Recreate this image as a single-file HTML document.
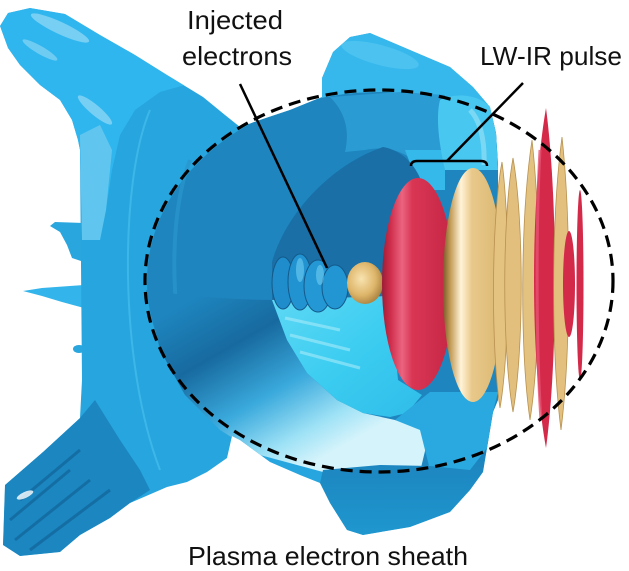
<!DOCTYPE html>
<html>
<head>
<meta charset="utf-8">
<style>
  html, body { margin: 0; padding: 0; background: #ffffff; }
  body { width: 629px; height: 571px; overflow: hidden; }
  svg { display: block; }
  .lbl { font-family: "Liberation Sans", "DejaVu Sans", sans-serif; font-size: 26px; fill: #111; }
</style>
</head>
<body>
<svg width="629" height="571" viewBox="0 0 629 571" xmlns="http://www.w3.org/2000/svg">
  <defs>
    <clipPath id="sil">
      <path d="M0,26 L8,13 L30,8 L65,14 L100,35 L135,55 L167,75 L203,97 L225,115 L240,127 L260,120 L290,110 L322,97 L322,78 L333,52 L350,37 L370,33 L410,50 L450,67 L473,87 L490,107 L496,133 L498,165 L498,400 L493,412 L487,448 L483,472 L470,490 L450,512 L410,527 L363,535 L347,530 L330,503 L320,483 L300,475 L270,462 L240,440 L232,436 L227,458 L207,472 L187,482 L167,487 L130,503 L110,518 L80,535 L60,552 L20,556 L3,545 L5,485 L43,452 L80,418 L82,380 L80,150 L78,140 L72,120 L60,100 L40,85 L20,65 L8,48 Z"/>
    </clipPath>
    <linearGradient id="floor" gradientUnits="userSpaceOnUse" x1="200" y1="295" x2="300" y2="470">
      <stop offset="0" stop-color="#1e85be"/>
      <stop offset="0.3" stop-color="#176a9f"/>
      <stop offset="0.6" stop-color="#3aa9dc"/>
      <stop offset="0.85" stop-color="#9fe2f6"/>
      <stop offset="1" stop-color="#d4f3fb"/>
    </linearGradient>
    <linearGradient id="bright" x1="0" y1="0" x2="1" y2="1">
      <stop offset="0" stop-color="#5fd8f4"/>
      <stop offset="0.5" stop-color="#3ccdf1"/>
      <stop offset="1" stop-color="#2fbde9"/>
    </linearGradient>
    <linearGradient id="redg" x1="0" y1="0" x2="1" y2="0">
      <stop offset="0" stop-color="#9e1c36"/>
      <stop offset="0.12" stop-color="#cf2e4b"/>
      <stop offset="0.28" stop-color="#ea6480"/>
      <stop offset="0.42" stop-color="#d93654"/>
      <stop offset="1" stop-color="#c42644"/>
    </linearGradient>
    <linearGradient id="goldg" x1="0" y1="0" x2="1" y2="0">
      <stop offset="0" stop-color="#7a5a2a"/>
      <stop offset="0.12" stop-color="#c29a55"/>
      <stop offset="0.3" stop-color="#fff3d8"/>
      <stop offset="0.48" stop-color="#e9c98a"/>
      <stop offset="1" stop-color="#d9b670"/>
    </linearGradient>
    <radialGradient id="ball" cx="0.4" cy="0.4" r="0.65">
      <stop offset="0" stop-color="#f8e3b0"/>
      <stop offset="0.6" stop-color="#deb66b"/>
      <stop offset="1" stop-color="#a9803d"/>
    </radialGradient>
    <linearGradient id="bottomp" x1="0" y1="0" x2="0" y2="1">
      <stop offset="0" stop-color="#1c82bc"/>
      <stop offset="1" stop-color="#1f97cf"/>
    </linearGradient>
  </defs>

  <rect x="0" y="0" width="629" height="571" fill="#ffffff"/>

  <!-- left spikes -->
  <path d="M84,223 L55,222 L50,226 L60,232 L67,245 L72,258 L84,262 Z" fill="#2aa6de"/>
  <path d="M84,285 L42,288 L23,291 L42,296 L62,302 L84,308 Z" fill="#33b4ea"/>
  <ellipse cx="79" cy="349" rx="6" ry="4" fill="#2aa6de"/>

  <!-- silhouette base -->
  <rect x="0" y="0" width="629" height="571" fill="#27a5de" clip-path="url(#sil)"/>

  <g clip-path="url(#sil)">
    <!-- upper funnel -->
    <path d="M0,26 L8,13 L30,8 L65,14 L100,35 L135,55 L167,75 L185,85 L160,92 L135,110 L120,135 L112,170 L106,210 L100,240 L82,240 L80,150 L72,120 L60,100 L40,85 L20,65 L8,48 Z" fill="#30b6ee"/>
    <path d="M80,135 L100,125 L112,150 L106,210 L100,240 L82,240 Z" fill="#76cdef" opacity="0.7"/>
    <ellipse cx="60" cy="28" rx="32" ry="6" fill="#ffffff" opacity="0.35" transform="rotate(25 60 28)"/>
    <ellipse cx="95" cy="110" rx="22" ry="5" fill="#ffffff" opacity="0.35" transform="rotate(40 95 110)"/>
    <ellipse cx="40" cy="50" rx="20" ry="4" fill="#ffffff" opacity="0.3" transform="rotate(30 40 50)"/>

    <!-- hood outer (lighter) -->
    <path d="M322,100 L322,78 L333,52 L350,37 L370,33 L410,50 L450,67 L473,87 L490,107 L496,133 L498,170 L440,170 L430,100 Z" fill="#36b8ec"/>
    <ellipse cx="380" cy="55" rx="40" ry="10" fill="#5fcbf3" opacity="0.5" transform="rotate(15 380 55)"/>

    <!-- lower funnel -->
    <path d="M3,545 L5,485 L43,452 L80,418 L95,400 L120,440 L140,470 L150,490 L130,503 L110,518 L80,535 L60,552 L20,556 Z" fill="#1b86c0"/>
    <path d="M10,520 L70,470 M15,540 L90,480 M30,550 L110,490 M20,500 L80,450" stroke="#125f92" stroke-width="3" opacity="0.6"/>
    <ellipse cx="25" cy="495" rx="9" ry="3" fill="#ffffff" opacity="0.8" transform="rotate(-25 25 495)"/>

    <!-- ring lines -->
    <path d="M150,110 C120,180 118,360 160,470" fill="none" stroke="#4dc3f0" stroke-width="2" opacity="0.6"/>

    <!-- cavity -->
    <ellipse cx="379" cy="281" rx="232" ry="189" fill="#1e85be"/>
    <path d="M190,160 C170,210 170,300 185,360" fill="none" stroke="#2a95cc" stroke-width="4" opacity="0.7"/>

    <!-- floor gradient -->
    <path d="M146,290 C200,298 250,300 272,300 L287,340 L307,373 L337,400 L363,413 L395,420 L430,430 L420,472 L323,472 L260,455 L220,430 L185,395 L160,350 Z" fill="url(#floor)"/>

    <!-- hood inner -->
    <path d="M330,97 C345,112 350,130 345,152 L365,150 C385,146 402,150 415,162 L445,165 L445,95 L400,92 Z" fill="#2a9bd3"/>
    <path d="M405,150 L445,150 L445,190 L420,190 Z" fill="#35b8ea"/>
    <!-- pillar -->
    <path d="M440,100 C455,92 480,95 490,107 L496,133 L498,170 L445,170 C438,140 436,115 440,100 Z" fill="#48c7f0"/>
    <path d="M470,110 C480,120 485,140 484,165" fill="none" stroke="#9fe3f9" stroke-width="5" opacity="0.6"/>

    <!-- dark cone -->
    <path d="M272,300 L272,262 C285,215 330,165 383,147 C400,150 413,162 420,178 L425,300 Z" fill="#196fa6"/>

    <!-- bright inner surface -->
    <path d="M272,300 L390,296 L398,380 L422,395 L407,413 L390,417 L363,413 L337,400 L307,373 L287,340 Z" fill="url(#bright)"/>
    <path d="M285,318 L340,330 M290,335 L350,350 M300,352 L360,368" stroke="#a6ebfa" stroke-width="3" opacity="0.6"/>

    <!-- region under pulse -->
    <path d="M395,420 L430,392 L498,392 L493,412 L487,448 L470,470 L430,470 L420,430 Z" fill="#2aa9e0"/>
    <!-- bottom piece -->
    <path d="M320,483 L323,470 L380,465 L430,466 L470,470 L487,448 L483,472 L470,490 L450,512 L410,527 L363,535 L347,530 L330,503 Z" fill="url(#bottomp)"/>
  </g>

  <!-- electron bunch -->
  <g stroke="#14598a" stroke-width="1">
    <ellipse cx="283" cy="283" rx="11" ry="26" fill="#1f8ccb"/>
    <ellipse cx="300" cy="282" rx="12" ry="28" fill="#2293d1"/>
    <ellipse cx="318" cy="286" rx="14" ry="26" fill="#2498d5"/>
    <ellipse cx="335" cy="287" rx="13" ry="22" fill="#2196d3"/>
  </g>
  <ellipse cx="300" cy="270" rx="4" ry="12" fill="#6fcdf2" opacity="0.6"/>
  <ellipse cx="320" cy="275" rx="4" ry="10" fill="#6fcdf2" opacity="0.6"/>

  <!-- gold ball -->
  <ellipse cx="365" cy="283" rx="18" ry="21" fill="url(#ball)"/>

  <!-- red disc -->
  <ellipse cx="418" cy="284" rx="36" ry="106" fill="url(#redg)"/>

  <!-- big gold disc -->
  <ellipse cx="473" cy="285" rx="30" ry="117" fill="url(#goldg)"/>

  <!-- thin lenses -->
  <g stroke="#b8914f" stroke-width="0.8">
    <path d="M502,162 C491,220 491,350 500,408 C510,350 510,220 502,162 Z" fill="#e4c27f"/>
    <path d="M513,158 C502,220 502,350 513,412 C524,350 524,220 513,158 Z" fill="#e2bf7c"/>
    <path d="M532,140 C520,220 520,350 530,420 C541,350 541,220 532,140 Z" fill="#e3c17e"/>
  </g>
  <path d="M546,108 C530,200 530,360 546,448 C558,360 558,200 546,108 Z" fill="#d5294a"/>
  <path d="M540,150 C536,220 536,350 541,420" fill="none" stroke="#e65270" stroke-width="3" opacity="0.8"/>
  <path d="M562,137 C551,220 551,350 561,430 C571,350 571,220 562,137 Z" fill="#e3c07d" stroke="#b8914f" stroke-width="0.8"/>
  <ellipse cx="569" cy="284" rx="6" ry="53" fill="#d42a4a"/>
  <ellipse cx="580" cy="285" rx="3.5" ry="95" fill="#d42a4a"/>

  <!-- dashed ellipse -->
  <ellipse cx="379" cy="281" rx="234" ry="191" fill="none" stroke="#000" stroke-width="3.2" stroke-dasharray="12 7"/>

  <!-- leader lines -->
  <line x1="240" y1="84" x2="327" y2="268" stroke="#000" stroke-width="2.5"/>
  <line x1="523" y1="83" x2="447" y2="161" stroke="#000" stroke-width="2.5"/>
  <path d="M411,166 Q411,161 417,161 L481,161 Q487,161 487,166" fill="none" stroke="#000" stroke-width="2.5"/>

  <!-- labels -->
  <text class="lbl" x="187" y="29" textLength="96" lengthAdjust="spacingAndGlyphs">Injected</text>
  <text class="lbl" x="182" y="65" textLength="110" lengthAdjust="spacingAndGlyphs">electrons</text>
  <text class="lbl" x="480" y="65" textLength="142" lengthAdjust="spacingAndGlyphs">LW-IR pulse</text>
  <text class="lbl" x="188" y="565" textLength="280" lengthAdjust="spacingAndGlyphs">Plasma electron sheath</text>
</svg>
</body>
</html>
